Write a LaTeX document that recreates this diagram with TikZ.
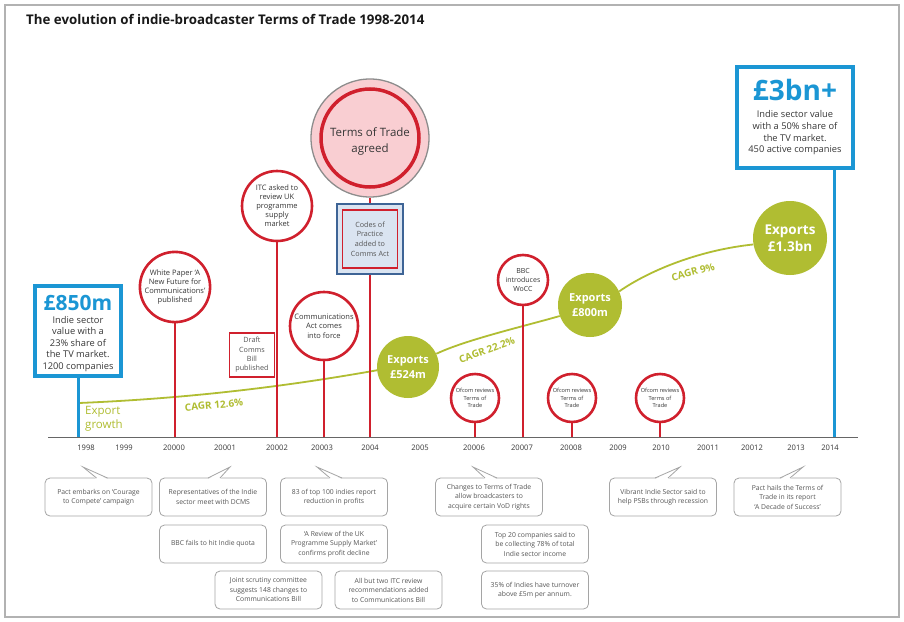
\documentclass[tikz,border=0pt]{standalone}
\usepackage{fontspec}
\setmainfont{Open Sans}
\usetikzlibrary{calc}
\definecolor{tred}{RGB}{208,32,45}
\definecolor{tblue}{RGB}{27,150,212}
\definecolor{tgreen}{RGB}{176,189,50}
\definecolor{tsteel}{RGB}{62,100,150}
\definecolor{tpink}{RGB}{249,206,210}
\definecolor{tlightblue}{RGB}{218,228,241}
\definecolor{ttext}{RGB}{55,55,55}
\definecolor{tgraytext}{RGB}{85,85,85}
\definecolor{tbubble}{RGB}{165,165,165}
\newcommand\bubtip[4]{%
  \fill[white] ([xshift=#2,yshift=-1.6pt]#1.north) -- (#4) -- ([xshift=#3,yshift=-1.6pt]#1.north) -- cycle;
  \draw[bubline] ([xshift=#2,yshift=-0.4pt]#1.north) -- (#4) -- ([xshift=#3,yshift=-0.4pt]#1.north);}
\begin{document}
\begin{tikzpicture}[x=1pt,y=-1pt,
  redcirc/.style={circle, draw=tred, line width=2.6pt, fill=white, text=ttext, align=center, inner sep=0pt},
  redline/.style={draw=tred, line width=2.4pt},
  blueline/.style={draw=tblue, line width=3pt},
  greencirc/.style={circle, fill=tgreen, text=white, align=center, inner sep=0pt},
  greenline/.style={draw=tgreen, line width=1.8pt},
  cagr/.style={text=tgreen, font=\fontsize{10}{12}\selectfont\bfseries, inner sep=0pt},
  bubble/.style={draw=tbubble, line width=0.8pt, rounded corners=5pt, fill=white, text=tgraytext, align=center, minimum width=107pt, minimum height=38pt, inner sep=1pt, font=\fontsize{6.8}{9.5}\selectfont},
  bubline/.style={draw=tbubble, line width=0.8pt},
  yearlab/.style={text=ttext, font=\fontsize{7.6}{9}\selectfont, inner sep=0pt},
  valbox/.style={draw=tblue, line width=4pt, fill=white},
  valtxt/.style={text=ttext, align=center, inner sep=0pt},
]
\useasboundingbox (0,0) rectangle (904,621);
\fill[white] (0,0) rectangle (904,621);
\draw[black!30, line width=1.2pt] (5,5) rectangle (899,617);

\node[anchor=west, inner sep=0pt, text=black!90, font=\fontsize{13.3}{15}\selectfont\bfseries] (title) at (26,19) {The evolution of indie-broadcaster Terms of Trade 1998-2014};

% tick coordinates on the axis
\coordinate (axL) at (48,437);
\coordinate (axR) at (858,437);
\coordinate (t1998) at (78,437);
\coordinate (t2000) at (175,437);
\coordinate (t2002) at (277,437);
\coordinate (t2003) at (324,437);
\coordinate (t2004) at (370,437);
\coordinate (t2006) at (475,437);
\coordinate (t2007) at (523,437);
\coordinate (t2008) at (572,437);
\coordinate (t2010) at (660,437);
\coordinate (t2014) at (834,437);

% export circles and growth line
\node[greencirc, minimum size=62pt, font=\fontsize{11}{15}\selectfont\bfseries] (e524) at (408,367) {Exports\\£524m};
\node[greencirc, minimum size=64pt, font=\fontsize{11}{15}\selectfont\bfseries] (e800) at (590,305) {Exports\\£800m};
\node[greencirc, minimum size=74pt, font=\fontsize{13.5}{17}\selectfont\bfseries] (e13) at (790,238) {Exports\\£1.3bn};
\coordinate (gstart) at (79,403);
\draw[greenline] (gstart) .. controls (200,398) and (300,384) .. (e524.186);
\draw[greenline] (e524.25) .. controls (465,340) and (525,326) .. (e800.200);
\draw[greenline] (e800.25) .. controls (650,270) and (700,250) .. (e13.190);

\node[text=tgreen, font=\fontsize{11.5}{14}\selectfont, align=left, anchor=west, inner sep=0pt] (expg) at (85,419) {Export\\growth};
\node[cagr, rotate=5] (cagr1) at (214,405) {CAGR 12.6\%};
\node[cagr, rotate=20] (cagr2) at (487,350) {CAGR 22.2\%};
\node[cagr, rotate=15] (cagr3) at (693,272) {CAGR 9\%};

% value boxes
\node[valbox, minimum width=86pt, minimum height=90pt] (b850) at (78,330.5) {};
\node[valtxt, text=tblue, font=\fontsize{21}{24}\selectfont\bfseries] (b850t) at (78,303) {£850m};
\node[valtxt, font=\fontsize{9.3}{11.5}\selectfont] (b850d) at (78,344) {Indie sector\\value with a\\23\% share of\\the TV market.\\1200 companies};
\node[valbox, minimum width=116pt, minimum height=101pt] (b3) at (795,117.5) {};
\node[valtxt, text=tblue, font=\fontsize{28}{30}\selectfont\bfseries] (b3t) at (795,90) {£3bn+};
\node[valtxt, font=\fontsize{9.3}{11.7}\selectfont] (b3d) at (795,133) {Indie sector value\\with a 50\% share of\\the TV market.\\450 active companies};

% event circles and boxes
\node[redcirc, minimum size=70pt, font=\fontsize{7.5}{9.3}\selectfont] (c2000) at (175,287) {White Paper ‘A\\New Future for\\Communications’\\published};
\node[redcirc, minimum size=70pt, font=\fontsize{7.5}{9}\selectfont] (c2002) at (277,206) {ITC asked to\\review UK\\programme\\supply\\market};
\node[draw=tred, line width=1.8pt, fill=white, minimum width=45pt, minimum height=44pt, align=center, text=tgraytext, font=\fontsize{7.2}{9.4}\selectfont, inner sep=0pt] (draft) at (252,355) {Draft\\Comms\\Bill\\published};
\node[redcirc, minimum size=68pt, font=\fontsize{7.5}{9.3}\selectfont] (c2003) at (324,326) {Communications\\Act comes\\into force};
\node[circle, draw=black!45, line width=1.3pt, fill=tpink, minimum size=118pt] (terms) at (370,138) {};
\node[circle, draw=tred, line width=3.5pt, minimum size=98pt] (termsin) at (terms.center) {};
\node[text=ttext, align=center, inner sep=0pt, font=\fontsize{11.5}{16}\selectfont] (termstxt) at (370,141) {Terms of Trade\\agreed};
\node[draw=tsteel, line width=2.5pt, fill=tlightblue, minimum width=66pt, minimum height=70pt] (codes) at (370,239) {};
\node[draw=tred, line width=1.8pt, minimum width=55pt, minimum height=58pt, align=center, text=tgraytext, inner sep=0pt, font=\fontsize{7.2}{9.6}\selectfont] (codesin) at (codes.center) {Codes of\\Practice\\added to\\Comms Act};
\node[redcirc, minimum size=48pt, font=\fontsize{5.6}{7.2}\selectfont] (c2006) at (475,398) {Ofcom reviews\\Terms of\\Trade};
\node[redcirc, minimum size=50pt, font=\fontsize{7}{8.8}\selectfont] (c2007) at (523,280) {BBC\\introduces\\WoCC};
\node[redcirc, minimum size=48pt, font=\fontsize{5.6}{7.2}\selectfont] (c2008) at (572,398) {Ofcom reviews\\Terms of\\Trade};
\node[redcirc, minimum size=48pt, font=\fontsize{5.6}{7.2}\selectfont] (c2010) at (660,398) {Ofcom reviews\\Terms of\\Trade};

% stems
\draw[blueline] (b850.south -| t1998) -- (t1998);
\draw[blueline] (b3.south -| t2014) -- (t2014);
\draw[redline] (c2000.south) -- (t2000);
\draw[redline] (c2002.south) -- (t2002);
\draw[redline] (c2003.south) -- (t2003);
\draw[redline] (terms.south) -- (codes.north);
\draw[redline] (codes.south) -- (t2004);
\draw[redline] (c2006.south) -- (t2006);
\draw[redline] (c2007.south) -- (t2007);
\draw[redline] (c2008.south) -- (t2008);
\draw[redline] (c2010.south) -- (t2010);

% axis and years
\draw[black!60, line width=1pt] (axL) -- (axR);
\foreach \xx/\yy in {86/1998, 124/1999, 174/20000, 225/20001, 277/20002, 322/20003, 370/2004, 420/2005, 474/20006, 522/20007, 571/20008, 618/2009, 661/2010, 708/20011, 752/20012, 796/2013, 830/2014}
  \node[yearlab] (y\yy) at (\xx,448) {\yy};

% callouts
\coordinate (tipA) at (83,467);
\coordinate (tipB) at (230,467);
\coordinate (tipC) at (317,467);
\coordinate (tipD) at (473,467);
\coordinate (tipE) at (680,467);
\coordinate (tipF) at (803,467);
\node[bubble] (bA) at (98.5,497) {Pact embarks on ‘Courage\\to Compete’ campaign};
\node[bubble] (bB) at (213,497) {Representatives of the Indie\\sector meet with DCMS};
\node[bubble] (bC) at (334,497) {83 of top 100 indies report\\reduction in profits};
\node[bubble] (bD) at (489,497) {Changes to Terms of Trade\\allow broadcasters to\\acquire certain VoD rights};
\node[bubble] (bE) at (663,497) {Vibrant Indie Sector said to\\help PSBs through recession};
\node[bubble] (bF) at (787.5,497) {Pact hails the Terms of\\Trade in its report\\‘A Decade of Success’};
\bubtip{bA}{-2pt}{9pt}{tipA}
\bubtip{bB}{-5pt}{7pt}{tipB}
\bubtip{bC}{-4pt}{8pt}{tipC}
\bubtip{bD}{-4pt}{8pt}{tipD}
\bubtip{bE}{-8pt}{5pt}{tipE}
\bubtip{bF}{-7.5pt}{2.5pt}{tipF}
\node[bubble] (pA) at (213,544) {BBC fails to hit Indie quota};
\node[bubble] (pB) at (334,544) {‘A Review of the UK\\Programme Supply Market’\\confirms profit decline};
\node[bubble] (pC) at (268.5,590) {Joint scrutiny committee\\suggests 148 changes to\\Communications Bill};
\node[bubble] (pD) at (388.5,590) {All but two ITC review\\recommendations added\\to Communications Bill};
\node[bubble] (pE) at (535,544) {Top 20 companies said to\\be collecting 78\% of total\\Indie sector income};
\node[bubble] (pF) at (535,590) {35\% of Indies have turnover\\above £5m per annum.};
\end{tikzpicture}
\end{document}
